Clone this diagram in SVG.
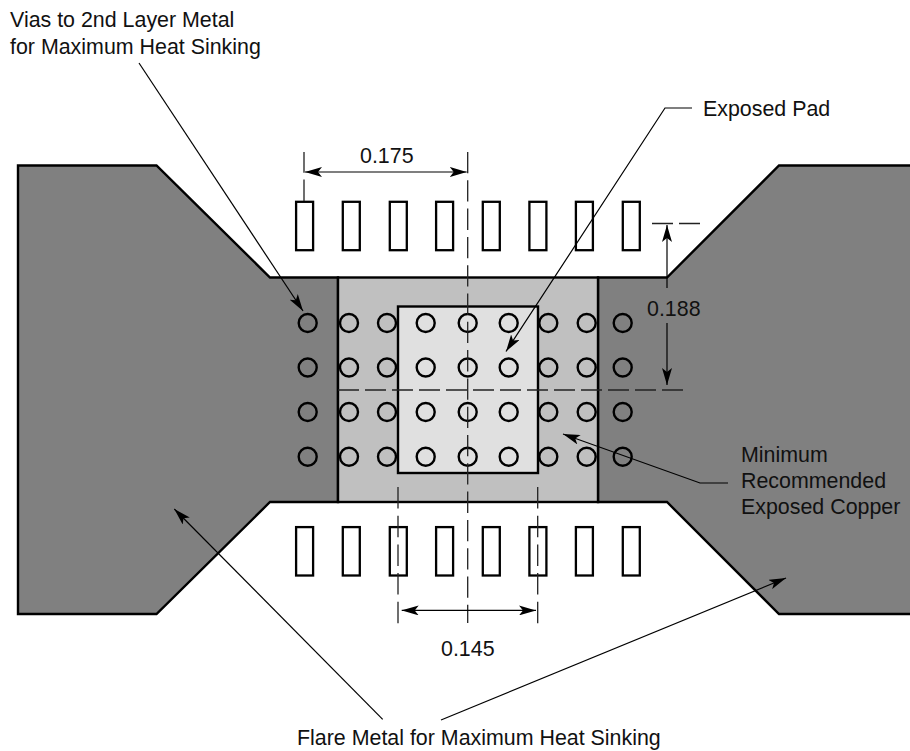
<svg xmlns="http://www.w3.org/2000/svg" width="910" height="751" viewBox="0 0 910 751">
<style>
.flare{fill:#808080;stroke:#000;stroke-width:2.4;stroke-linejoin:miter}
.copper{fill:#c0c0c0;stroke:#000;stroke-width:2.4}
.pad{fill:#e0e0e0;stroke:#000;stroke-width:2.4}
.lead{fill:#fff;stroke:#000;stroke-width:2.3}
.via{fill:none;stroke:#000;stroke-width:2.4}
.ln{fill:none;stroke:#000;stroke-width:1.2}
.tip{marker-end:url(#ah)}
.both{marker-start:url(#ah);marker-end:url(#ah)}
.dash{fill:none;stroke:#222;stroke-width:1.3}
.cl{stroke-dasharray:21.3 7}
.ex{stroke-dasharray:21.5 7.2}
.hl{stroke-dasharray:21 6}
text{font-family:"Liberation Sans",Arial,sans-serif;font-size:21.4px;fill:#111}
</style>
<defs>
<marker id="ah" viewBox="0 0 17 10" refX="17" refY="5" markerWidth="17" markerHeight="10" markerUnits="userSpaceOnUse" orient="auto-start-reverse"><path d="M0 0L17 5L0 10L4 5Z" fill="#000"/></marker>
<circle id="v" r="9" class="via"/>
<rect id="l" width="17" height="48.400" class="lead"/>
</defs>
<g id="flare-left"><path class="flare" d="M18 165.500H156.500L270 277.500H338V502H270L156.500 614H18Z"/></g>
<g id="flare-right"><path class="flare" d="M914 165.500H779L667 277.500H598V502H667L779 614H914"/></g>
<g id="copper"><rect class="copper" x="338" y="277.500" width="260" height="224.500"/></g>
<g id="pad"><rect class="pad" x="398" y="306.500" width="140" height="166.500"/></g>
<g id="leads-top">
<use href="#l" x="296.100" y="201.800"/><use href="#l" x="342.800" y="201.800"/><use href="#l" x="389.800" y="201.800"/><use href="#l" x="436.100" y="201.800"/><use href="#l" x="482.800" y="201.800"/><use href="#l" x="529.400" y="201.800"/><use href="#l" x="575.900" y="201.800"/><use href="#l" x="622.800" y="201.800"/>
</g>
<g id="leads-bottom">
<use href="#l" x="296.100" y="527.100"/><use href="#l" x="342.800" y="527.100"/><use href="#l" x="389.800" y="527.100"/><use href="#l" x="436.100" y="527.100"/><use href="#l" x="482.800" y="527.100"/><use href="#l" x="529.400" y="527.100"/><use href="#l" x="575.900" y="527.100"/><use href="#l" x="622.800" y="527.100"/>
</g>
<g id="vias">
<use href="#v" x="307.700" y="323"/><use href="#v" x="349" y="323"/><use href="#v" x="387" y="323"/><use href="#v" x="425.700" y="323"/><use href="#v" x="467.700" y="323"/><use href="#v" x="508.700" y="323"/><use href="#v" x="548.300" y="323"/><use href="#v" x="586.700" y="323"/><use href="#v" x="622.700" y="323"/>
<use href="#v" x="307.700" y="367.500"/><use href="#v" x="349" y="367.500"/><use href="#v" x="387" y="367.500"/><use href="#v" x="425.700" y="367.500"/><use href="#v" x="467.700" y="367.500"/><use href="#v" x="508.700" y="367.500"/><use href="#v" x="548.300" y="367.500"/><use href="#v" x="586.700" y="367.500"/><use href="#v" x="622.700" y="367.500"/>
<use href="#v" x="307.700" y="412"/><use href="#v" x="349" y="412"/><use href="#v" x="387" y="412"/><use href="#v" x="425.700" y="412"/><use href="#v" x="467.700" y="412"/><use href="#v" x="508.700" y="412"/><use href="#v" x="548.300" y="412"/><use href="#v" x="586.700" y="412"/><use href="#v" x="622.700" y="412"/>
<use href="#v" x="307.700" y="456.700"/><use href="#v" x="349" y="456.700"/><use href="#v" x="387" y="456.700"/><use href="#v" x="425.700" y="456.700"/><use href="#v" x="467.700" y="456.700"/><use href="#v" x="508.700" y="456.700"/><use href="#v" x="548.300" y="456.700"/><use href="#v" x="586.700" y="456.700"/><use href="#v" x="622.700" y="456.700"/>
</g>
<g id="connectors">
<path class="dash" d="M304 152V172.700M304 179.500V201"/>
<path class="dash cl" d="M467.700 152V623"/>
<path class="dash ex" d="M398 487V628M537.700 487V628"/>
<path class="dash hl" d="M338 390H684"/>
<path class="dash" d="M652 223.500H673M679 223.500H700"/>
<path class="ln both" d="M305 172H466.700"/>
<path class="ln both" d="M401.700 610.400H536"/>
<path class="ln tip" d="M667 288V225"/>
<path class="ln tip" d="M667 323V385"/>
<path class="ln tip" d="M139 63L303 311"/>
<path class="ln tip" d="M692 108H665L506 351.500"/>
<path class="ln tip" d="M728 483H700L563 434"/>
<path class="ln tip" d="M382.700 719.300L174.300 509"/>
<path class="ln tip" d="M441 720L786 578"/>
</g>
<g id="labels">
<text x="10" y="27">Vias to 2nd Layer Metal</text>
<text x="10" y="54">for Maximum Heat Sinking</text>
<text x="360" y="163">0.175</text>
<text x="703" y="116">Exposed Pad</text>
<text x="647" y="316">0.188</text>
<text x="741" y="462">Minimum</text>
<text x="741" y="487.500">Recommended</text>
<text x="741" y="514">Exposed Copper</text>
<text x="441" y="656">0.145</text>
<text x="297" y="745">Flare Metal for Maximum Heat Sinking</text>
</g>
</svg>
